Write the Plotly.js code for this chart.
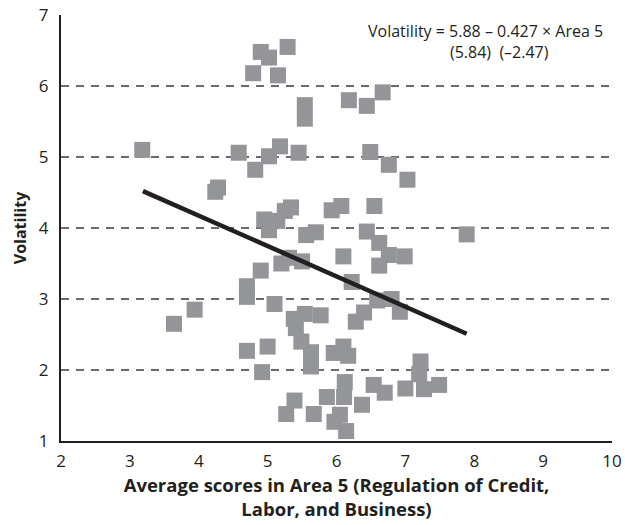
<!DOCTYPE html>
<html>
<head>
<meta charset="utf-8">
<script src="https://cdn.plot.ly/plotly-3.0.1.min.js"></script>
<style>html,body{margin:0;padding:0;background:#fff;}#chart{width:625px;height:525px;}</style>
</head>
<body>
<div id="chart"></div>
<script>
// Average scores in Area 5 (x) and Volatility (y)
const area5Scores = [
  4.90, 5.02, 5.29, 4.79, 5.15, 5.54, 5.54, 6.18, 6.44, 6.67,
  3.18, 4.58, 5.02, 5.18, 5.45, 6.49, 6.76, 7.03, 4.82, 4.24,
  4.28, 5.93, 6.07, 6.55, 4.95, 5.14, 5.25, 5.34, 5.02, 5.56,
  5.70, 6.44, 7.89, 6.62, 6.76, 6.99, 6.62, 6.10, 5.20, 5.31,
  5.50, 4.90, 4.70, 4.70, 5.10, 3.94, 3.64, 6.22, 6.59, 6.80,
  6.92, 6.40, 6.28, 5.38, 5.54, 5.77, 5.41, 5.49, 4.70, 5.00,
  5.63, 5.63, 5.96, 6.10, 6.17, 4.92, 7.22, 7.20, 7.27, 7.49,
  7.00, 6.54, 6.70, 6.12, 6.11, 5.86, 6.37, 5.39, 5.27, 5.67,
  5.97, 6.05, 6.14
];
const volatility = [
  6.48, 6.40, 6.55, 6.18, 6.15, 5.73, 5.54, 5.80, 5.72, 5.91,
  5.10, 5.06, 5.01, 5.15, 5.06, 5.07, 4.89, 4.68, 4.82, 4.51,
  4.57, 4.25, 4.31, 4.31, 4.12, 4.10, 4.24, 4.29, 3.97, 3.90,
  3.94, 3.95, 3.91, 3.79, 3.62, 3.60, 3.47, 3.60, 3.50, 3.58,
  3.53, 3.40, 3.18, 3.03, 2.93, 2.85, 2.65, 3.24, 2.98, 3.00,
  2.82, 2.81, 2.68, 2.72, 2.79, 2.77, 2.59, 2.40, 2.27, 2.33,
  2.25, 2.05, 2.24, 2.33, 2.20, 1.97, 2.12, 1.94, 1.73, 1.79,
  1.74, 1.79, 1.68, 1.83, 1.62, 1.62, 1.51, 1.57, 1.38, 1.38,
  1.27, 1.37, 1.14
];
// Fitted regression line endpoints (Volatility = 5.88 - 0.427 x Area 5)
const fitX = [3.19, 7.89];
const fitY = [4.52, 2.51];

const xTicks = [2, 3, 4, 5, 6, 7, 8, 9, 10];
const yTicks = [1, 2, 3, 4, 5, 6, 7];

const equationLine1 = 'Volatility = 5.88 \u2013 0.427 \u00d7 Area 5';
const equationLine2 = '(5.84)&nbsp;&nbsp;(\u20132.47)';

const FONT = 'Open Sans, Noto Sans, sans-serif';
const INK = '#231f20';

const traces = [
  {
    type: 'scatter', mode: 'markers',
    x: area5Scores, y: volatility,
    marker: {symbol: 'square', size: 16, color: '#939598', line: {width: 0}},
    hoverinfo: 'skip', showlegend: false
  },
  {
    type: 'scatter', mode: 'lines',
    x: fitX, y: fitY,
    line: {color: INK, width: 4.5},
    hoverinfo: 'skip', showlegend: false
  }
];

const layout = {
  width: 625, height: 525,
  margin: {l: 61, r: 13, t: 15, b: 84},
  paper_bgcolor: '#fff', plot_bgcolor: '#fff',
  font: {family: FONT, size: 17, color: INK},
  showlegend: false,
  xaxis: {
    range: [2, 10], tickvals: xTicks, ticktext: xTicks.map(String),
    showgrid: false, zeroline: false,
    showline: true, linecolor: INK, linewidth: 2,
    ticks: 'outside', ticklen: 4, tickcolor: 'rgba(0,0,0,0)',
    tickfont: {family: FONT, size: 17, color: INK},
    title: {text: '<b>Average scores in Area 5 (Regulation of Credit,</b><br><b>Labor, and Business)</b>',
            font: {family: FONT, size: 18.5, color: INK}, standoff: 8}
  },
  yaxis: {
    range: [1, 7], tickvals: yTicks, ticktext: yTicks.map(String),
    showgrid: true, gridcolor: '#6a6b6e', gridwidth: 1.5, griddash: '8px,7px',
    zeroline: false,
    showline: true, linecolor: INK, linewidth: 2,
    ticks: 'outside', ticklen: 7, tickcolor: 'rgba(0,0,0,0)',
    tickfont: {family: FONT, size: 17, color: INK},
    title: {text: '<b>Volatility</b>', font: {family: FONT, size: 16, color: INK}, standoff: 8}
  },
  annotations: [
    {xref: 'paper', yref: 'paper', x: 0.988, y: 0.962, xanchor: 'right', yanchor: 'middle',
     text: equationLine1, showarrow: false, font: {family: FONT, size: 16, color: INK}},
    {xref: 'paper', yref: 'paper', x: 0.795, y: 0.913, xanchor: 'center', yanchor: 'middle',
     text: equationLine2, showarrow: false, font: {family: FONT, size: 16, color: INK}}
  ]
};

Plotly.newPlot('chart', traces, layout, {staticPlot: true, displayModeBar: false});
</script>
</body>
</html>
